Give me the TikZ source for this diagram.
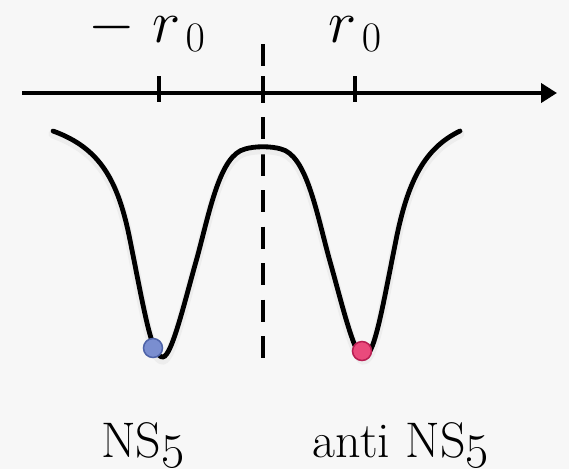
\RequirePackage{fix-cm}
\documentclass[tikz,border=0pt]{standalone}
\usetikzlibrary{arrows.meta}
\usepackage{xcolor}
\definecolor{bg}{HTML}{F7F7F7}
\definecolor{nsblue}{HTML}{7A8ED0}
\definecolor{nsblueedge}{HTML}{4E63A8}
\definecolor{nspink}{HTML}{EA4A7C}
\definecolor{nspinkedge}{HTML}{B81E52}

\begin{document}
\begin{tikzpicture}[x=1pt,y=-1pt,
    axisline/.style={line width=4.2pt},
    potline/.style={line width=4.8pt,line cap=round},
    shade line/.style={line width=9pt,black!7,line cap=round},
    mathlabel/.style={inner sep=0pt,anchor=base,font=\fontsize{60}{66}\selectfont},
    branelabel/.style={inner sep=0pt,anchor=base,font=\fontsize{50}{56}\selectfont}]
  \fill[bg] (0,0) rectangle (569,469);
  % axis and ticks
  \coordinate (axL) at (22,93);
  \coordinate (axR) at (557,93);
  \draw[axisline,-{Triangle[length=16pt,width=19pt]}] (axL) -- (axR);
  \foreach \x in {159,263,355}
    \draw[line width=3.6pt] (\x,76) -- (\x,102);
  \node[mathlabel] (mr) at (147,42) {$-\;r_{\,0}$};
  \node[mathlabel] (pr) at (355,42) {$r_{\,0}$};
  % symmetry line
  \draw[line width=4.4pt,dash pattern=on 22pt off 14.5pt] (263,44) -- (263,360);
  % potential
  \draw[shade line,yshift=-3pt] (53,131) .. controls (100,148) and (118,180) .. (130,240)
    .. controls (145,315) and (152,358) .. (163,357) .. controls (172,356) and (185,300) .. (197,258)
    .. controls (210,210) and (220,155) .. (245,149) .. controls (255,146) and (271,146) .. (281,149)
    .. controls (306,155) and (316,210) .. (329,258) .. controls (341,300) and (354,356) .. (363,357)
    .. controls (374,358) and (381,315) .. (396,240) .. controls (408,180) and (425,148) .. (460,131);
  \draw[potline] (53,131) .. controls (100,148) and (118,180) .. (130,240)
    .. controls (145,315) and (152,358) .. (163,357) .. controls (172,356) and (185,300) .. (197,258)
    .. controls (210,210) and (220,155) .. (245,149) .. controls (255,146) and (271,146) .. (281,149)
    .. controls (306,155) and (316,210) .. (329,258) .. controls (341,300) and (354,356) .. (363,357)
    .. controls (374,358) and (381,315) .. (396,240) .. controls (408,180) and (425,148) .. (460,131);
  % branes
  \fill[nsblue,draw=nsblueedge,line width=1.5pt] (153,348) circle (9.5pt);
  \fill[nspink,draw=nspinkedge,line width=1.5pt] (362,351) circle (9.5pt);
  \node[branelabel] (ns) at (143,457) {NS\oldstylenums{5}};
  \node[branelabel] (ans) at (401,457) {anti NS\oldstylenums{5}};
\end{tikzpicture}
\end{document}
